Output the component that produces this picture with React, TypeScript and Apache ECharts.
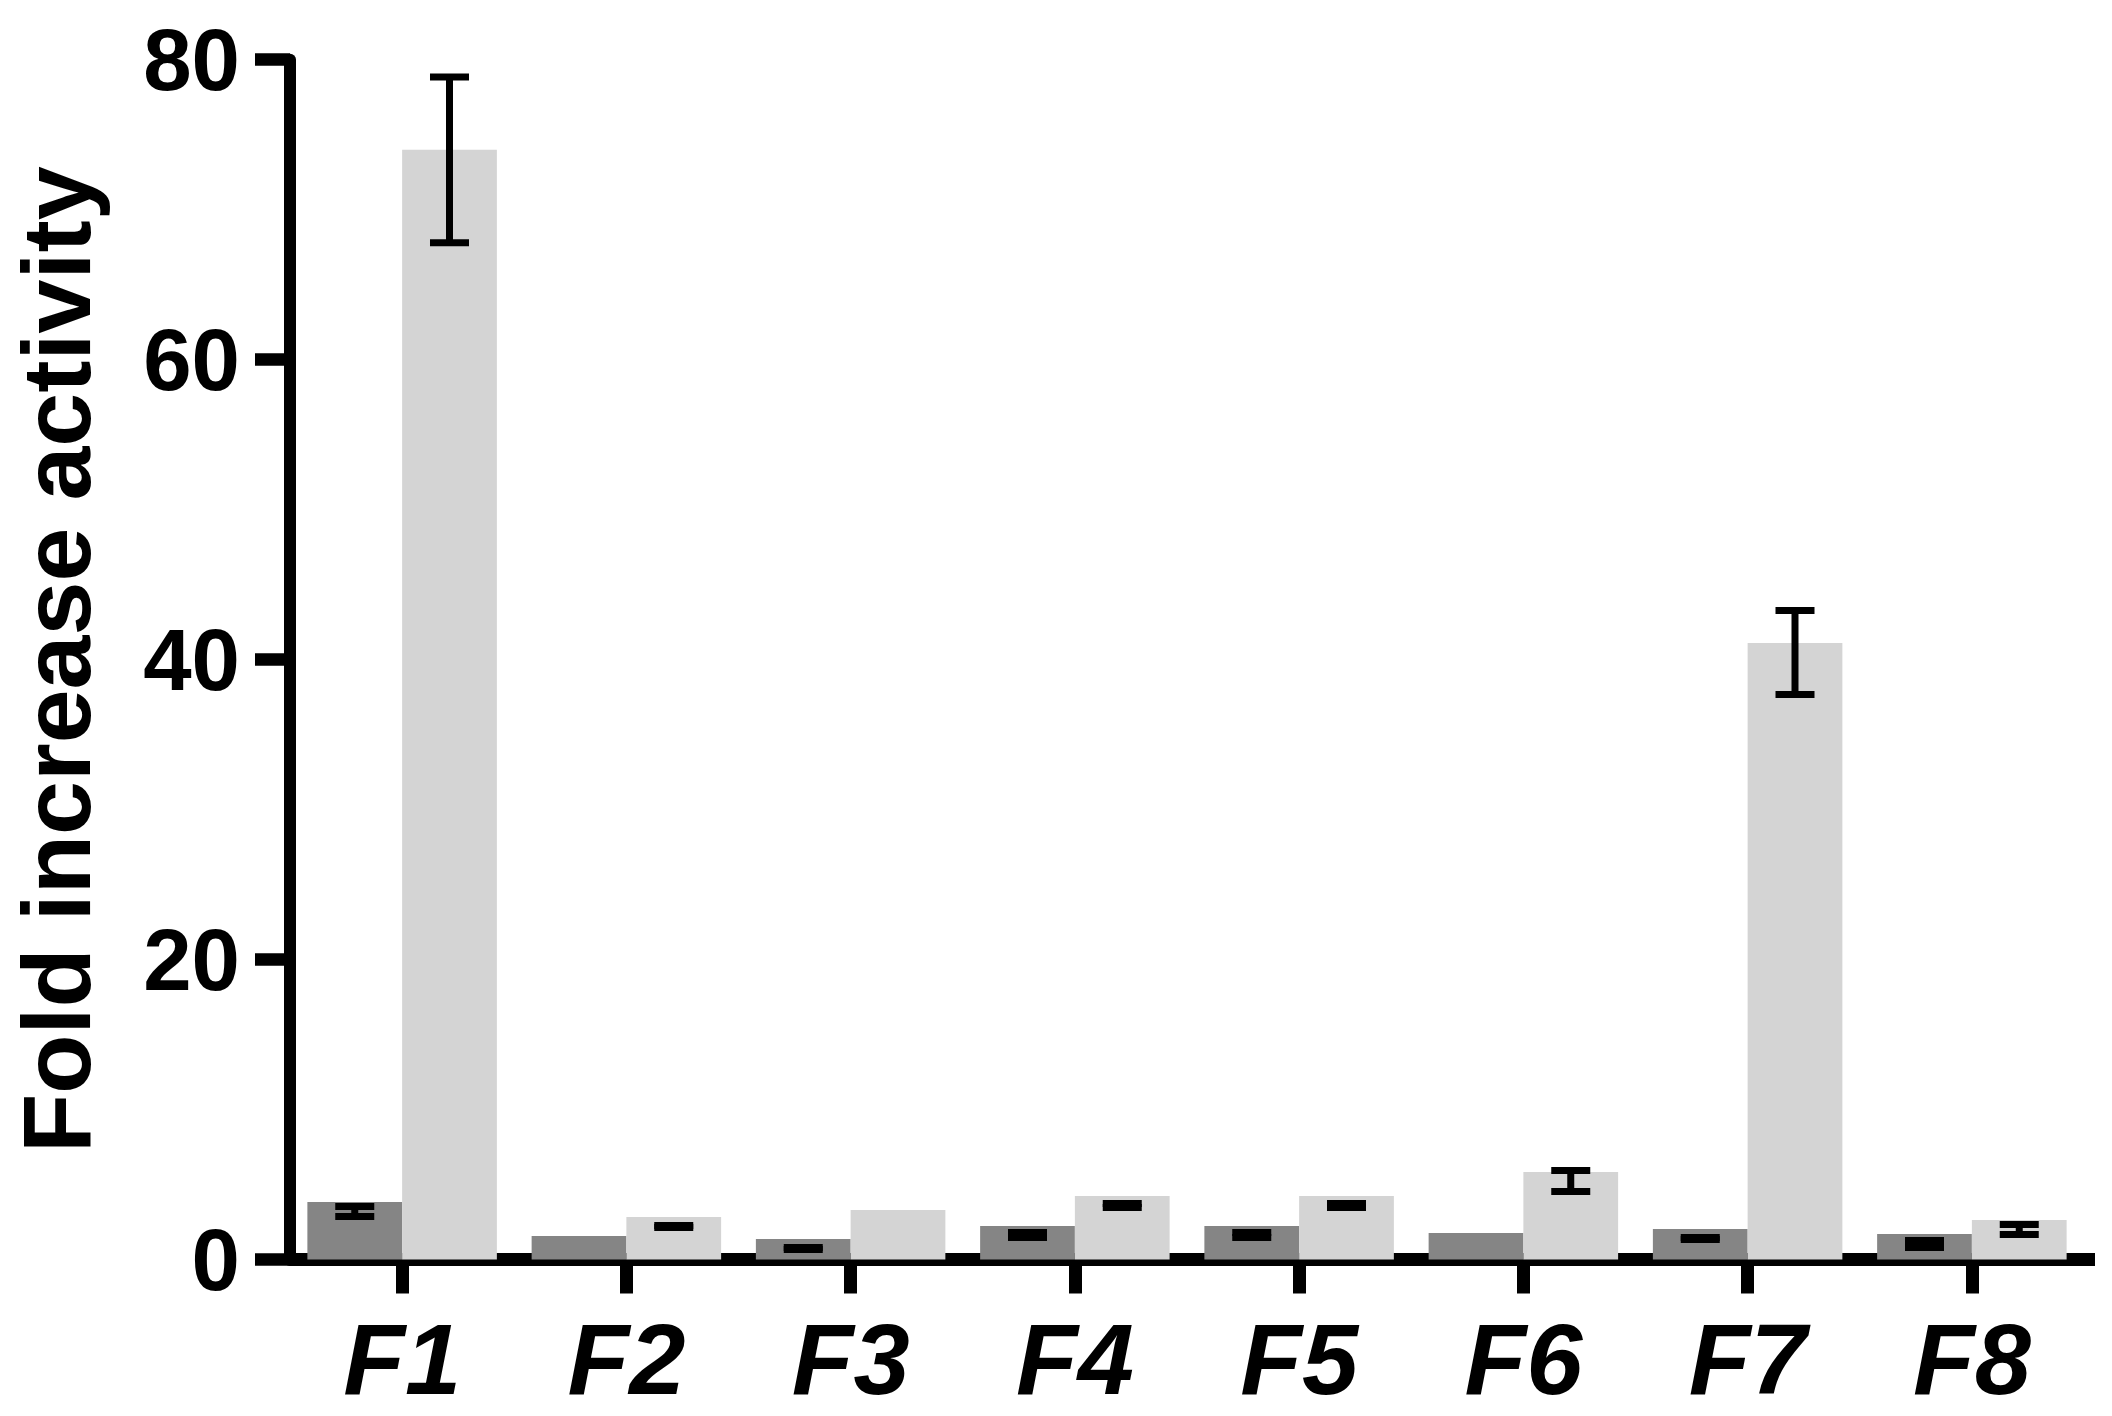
import React, { useEffect, useRef } from "react";
import * as echarts from "echarts";

const categories = ["F1", "F2", "F3", "F4", "F5", "F6", "F7", "F8"];
const darkValues = [3.83, 1.57, 1.37, 2.23, 2.23, 1.77, 2.03, 1.7];
const lightValues = [74, 2.83, 3.3, 4.23, 4.23, 5.83, 41.1, 2.63];
// [low, high] of error bars; null = no error bar drawn
const darkErr: ([number, number] | null)[] = [
  [2.87, 3.53], null, [0.67, 0.8], [1.47, 1.8], [1.47, 1.8], null, [1.33, 1.47], [0.8, 1.27],
];
const lightErr: ([number, number] | null)[] = [
  [67.8, 78.85], [2.13, 2.27], null, [3.47, 3.73], [3.47, 3.73], [4.53, 5.93], [37.67, 43.27], [1.67, 2.33],
];
const yTicks = { min: 0, max: 80, interval: 20 };
const yTitle = "Fold increase activity";

const W = 2112;
const H = 1416;
const GRID = { left: 288.7, top: 59.7, right: 28, bottom: 156.5 };
const CAT_GAP = 0.155;

export default function App() {
  const ref = useRef<HTMLDivElement>(null);
  useEffect(() => {
    if (!ref.current) return;
    const chart = echarts.init(ref.current, undefined, { renderer: "svg" });

    const errData: any[] = [];
    darkErr.forEach((e, i) => { if (e) errData.push([i, e[0], e[1], -1]); });
    lightErr.forEach((e, i) => { if (e) errData.push([i, e[0], e[1], 1]); });

    const font = "'Liberation Sans', Arial, Helvetica, sans-serif";
    const gridRightX = W - GRID.right;
    const axisY = H - GRID.bottom;

    chart.setOption({
      animation: false,
      backgroundColor: "#ffffff",
      grid: { ...GRID, containLabel: false },
      xAxis: {
        type: "category",
        data: categories,
        boundaryGap: true,
        axisLine: { show: true, lineStyle: { color: "#000", width: 13 } },
        axisTick: { show: true, alignWithLabel: true, length: 34, lineStyle: { color: "#000", width: 13 } },
        axisLabel: {
          color: "#000",
          fontFamily: font,
          fontWeight: "bold",
          fontStyle: "italic",
          fontSize: 101,
          margin: 49,
        },
        splitLine: { show: false },
      },
      yAxis: {
        type: "value",
        min: yTicks.min,
        max: yTicks.max,
        interval: yTicks.interval,
        name: yTitle,
        nameLocation: "middle",
        nameGap: 185,
        nameRotate: 90,
        nameTextStyle: { color: "#000", fontFamily: font, fontWeight: "bold", fontSize: 97 },
        axisLine: { show: true, lineStyle: { color: "#000", width: 12 } },
        axisTick: { show: true, length: 35, lineStyle: { color: "#000", width: 12.5 } },
        axisLabel: { color: "#000", fontFamily: font, fontWeight: "bold", fontSize: 87, margin: 50 },
        splitLine: { show: false },
      },
      graphic: [
        {
          type: "rect",
          shape: { x: gridRightX - 1, y: axisY - 6.5, width: 12, height: 13 },
          style: { fill: "#000" },
          silent: true,
        },
      ],
      series: [
        {
          type: "bar",
          data: darkValues,
          barGap: "0%",
          barCategoryGap: (CAT_GAP * 100) + "%",
          itemStyle: { color: "#858585" },
          z: 1,
        },
        {
          type: "bar",
          data: lightValues,
          barGap: "0%",
          barCategoryGap: (CAT_GAP * 100) + "%",
          itemStyle: { color: "#d4d4d4" },
          z: 1,
        },
        {
          type: "custom",
          data: errData,
          encode: { x: 0, y: [1, 2] },
          z: 5,
          renderItem: (params: any, api: any) => {
            const idx = api.value(0);
            const low = api.value(1);
            const high = api.value(2);
            const side = api.value(3);
            const band = api.size([1, 0])[0];
            const barW = (band * (1 - CAT_GAP)) / 2;
            const cx = api.coord([idx, 0])[0] + (side * barW) / 2;
            const yl = api.coord([idx, low])[1];
            const yh = api.coord([idx, high])[1];
            const capHalf = 19.5;
            const st = { stroke: "#000", lineWidth: 7, fill: null };
            return {
              type: "group",
              children: [
                { type: "line", shape: { x1: cx, y1: yh, x2: cx, y2: yl }, style: st },
                { type: "line", shape: { x1: cx - capHalf, y1: yh, x2: cx + capHalf, y2: yh }, style: st },
                { type: "line", shape: { x1: cx - capHalf, y1: yl, x2: cx + capHalf, y2: yl }, style: st },
              ],
            };
          },
        },
      ],
    });
    return () => chart.dispose();
  }, []);
  return (
    <div
      ref={ref}
      style={{ position: "fixed", left: 0, top: 0, width: W, height: H, background: "#fff" }}
    />
  );
}
